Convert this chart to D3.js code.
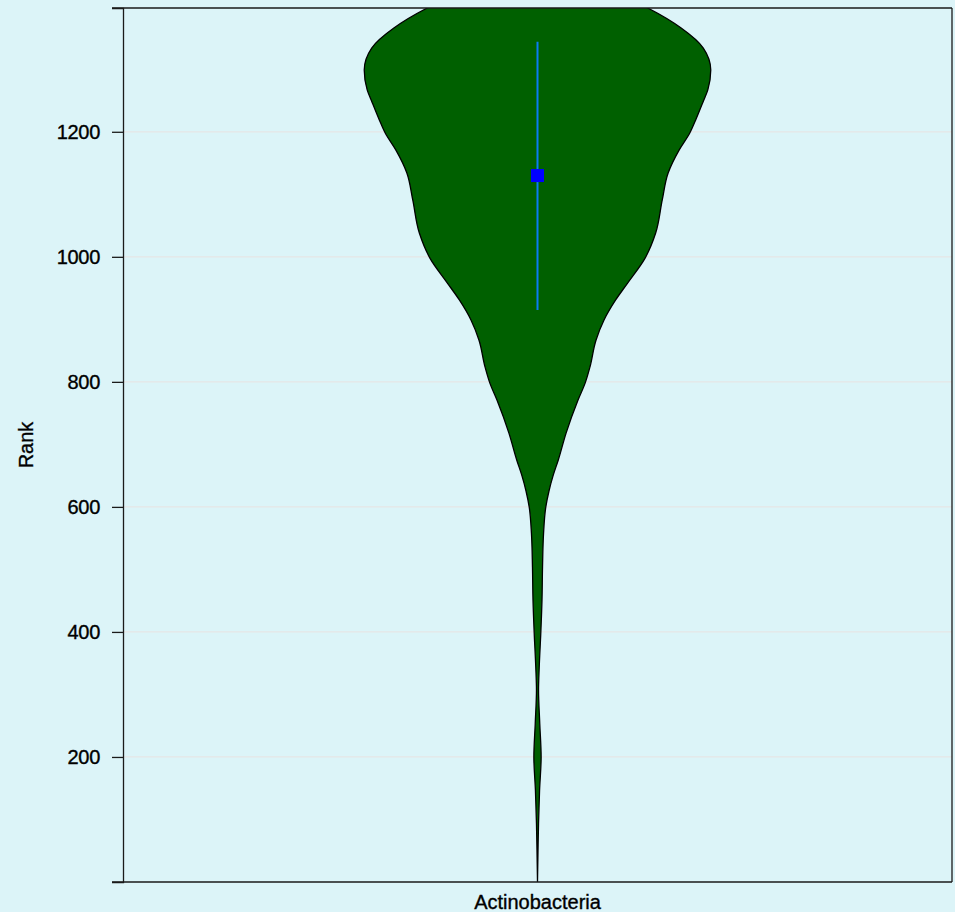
<!DOCTYPE html>
<html>
<head>
<meta charset="utf-8">
<script src="https://cdn.jsdelivr.net/npm/d3@7"></script>
<style>
  html, body { margin: 0; padding: 0; background: #dcf4f8; }
  svg { display: block; }
  .tick text, .labelText { font-family: "Liberation Sans", Arial, sans-serif; fill: #000; stroke: #000; stroke-width: 0.35px; }
</style>
</head>
<body>
<svg id="svg_violin"></svg>
<script>
// categories and value-axis ticks
const categories = ['Actinobacteria'];
const rankTicks = [200, 400, 600, 800, 1000, 1200];
const rankMax = 1398;

// estimated kernel density of rank (relative, max = 1)
const densityRanks = [0, 51, 94, 147, 200, 254, 307, 344, 398, 451, 504, 558, 600, 625, 650, 675,
  718, 771, 798, 824, 867, 899, 931, 958, 998, 1038, 1091, 1134, 1171, 1198, 1219, 1251, 1267,
  1299, 1334, 1366, 1398, 1430, 1460, 1480];
const densityValues = [0, 0.003, 0.006, 0.012, 0.021, 0.013, 0.006, 0.010, 0.019, 0.026, 0.029, 0.035,
  0.048, 0.066, 0.090, 0.120, 0.165, 0.234, 0.275, 0.303, 0.338, 0.384, 0.451, 0.520, 0.621, 0.682,
  0.720, 0.754, 0.818, 0.879, 0.913, 0.960, 0.983, 1.000, 0.957, 0.829, 0.636, 0.38, 0.12, 0];

// summary: median and range line
const medianRank = [1130];
const lowerRank = [915];
const upperRank = [1344];

const width = 955;
const height = 912;
const margin = { top: 8, right: 3, bottom: 30, left: 123 };

const svg = d3.select('#svg_violin')
  .attr('width', width)
  .attr('height', height);

svg.append('rect')
  .attr('width', width)
  .attr('height', height)
  .attr('fill', '#dcf4f8');

const xscale = d3.scaleBand()
  .domain(categories)
  .range([margin.left, width - margin.right]);

const yscale = d3.scaleLinear()
  .domain([0, rankMax])
  .range([height - margin.bottom, margin.top]);

// half-width of the violin
const wscale = d3.scaleLinear()
  .domain([0, d3.max(densityValues)])
  .range([0, xscale.bandwidth() / 2 * 0.418]);

// grid lines
svg.append('g')
  .selectAll('line')
  .data(rankTicks)
  .enter()
  .append('line')
  .attr('x1', margin.left)
  .attr('x2', width - margin.right)
  .attr('y1', d => yscale(d))
  .attr('y2', d => yscale(d))
  .attr('stroke', '#e6e6e6')
  .attr('stroke-width', 1.2);

// clip to the plot area
svg.append('clipPath')
  .attr('id', 'plotClip')
  .append('rect')
  .attr('x', margin.left)
  .attr('y', margin.top)
  .attr('width', width - margin.left - margin.right)
  .attr('height', height - margin.top - margin.bottom);

const violinData = densityRanks.map((r, i) => ({ rank: r, dens: densityValues[i] }));

categories.forEach((cat) => {
  const cx = xscale(cat) + xscale.bandwidth() / 2;
  const area = d3.area()
    .y(d => yscale(d.rank))
    .x0(d => cx - wscale(d.dens))
    .x1(d => cx + wscale(d.dens))
    .curve(d3.curveMonotoneY);

  const g = svg.append('g').attr('clip-path', 'url(#plotClip)');

  g.append('path')
    .datum(violinData)
    .attr('d', area)
    .attr('fill', '#006000')
    .attr('stroke', '#000')
    .attr('stroke-width', 1.3);

  g.selectAll('line.range')
    .data(lowerRank.map((l, i) => [l, upperRank[i]]))
    .enter()
    .append('line')
    .attr('class', 'range')
    .attr('x1', cx)
    .attr('x2', cx)
    .attr('y1', d => yscale(d[0]))
    .attr('y2', d => yscale(d[1]))
    .attr('stroke', '#0a7cf5')
    .attr('stroke-width', 2);

  g.selectAll('rect.median')
    .data(medianRank)
    .enter()
    .append('rect')
    .attr('class', 'median')
    .attr('x', cx - 6.5)
    .attr('y', d => yscale(d) - 6.5)
    .attr('width', 13)
    .attr('height', 13)
    .attr('fill', '#0000ff');
});

// frame: top and right
svg.append('line')
  .attr('x1', margin.left - 11).attr('x2', width - margin.right)
  .attr('y1', margin.top).attr('y2', margin.top)
  .attr('stroke', '#1a1a1a').attr('stroke-width', 1.3);
svg.append('line')
  .attr('x1', width - margin.right).attr('x2', width - margin.right)
  .attr('y1', margin.top).attr('y2', height - margin.bottom)
  .attr('stroke', '#1a1a1a').attr('stroke-width', 1.3);

// left axis
const leftAxis = d3.axisLeft(yscale)
  .tickValues(rankTicks)
  .tickSize(11)
  .tickSizeOuter(11)
  .tickPadding(12)
  .tickFormat(d3.format('d'));

const yAxisG = svg.append('g')
  .attr('transform', `translate(${margin.left}, 0)`)
  .call(leftAxis);
yAxisG.selectAll('path, line').attr('stroke', '#1a1a1a').attr('stroke-width', 1.3);
yAxisG.selectAll('text').attr('font-size', 20).attr('letter-spacing', '-0.3px');

// bottom axis
const bottomAxis = d3.axisBottom(xscale)
  .tickSize(0)
  .tickSizeOuter(0)
  .tickPadding(13);

const xAxisG = svg.append('g')
  .attr('transform', `translate(0, ${height - margin.bottom})`)
  .call(bottomAxis);
xAxisG.select('path').attr('stroke', '#1a1a1a').attr('stroke-width', 1.3);
xAxisG.select('.domain').attr('d', `M${margin.left - 11},0H${width - margin.right}`);
xAxisG.selectAll('text').attr('font-size', 20);

// y axis title
svg.append('text')
  .attr('class', 'labelText')
  .attr('transform', `translate(33, ${(margin.top + height - margin.bottom) / 2}) rotate(-90)`)
  .attr('text-anchor', 'middle')
  .attr('font-size', 20)
  .text('Rank');
</script>
</body>
</html>
